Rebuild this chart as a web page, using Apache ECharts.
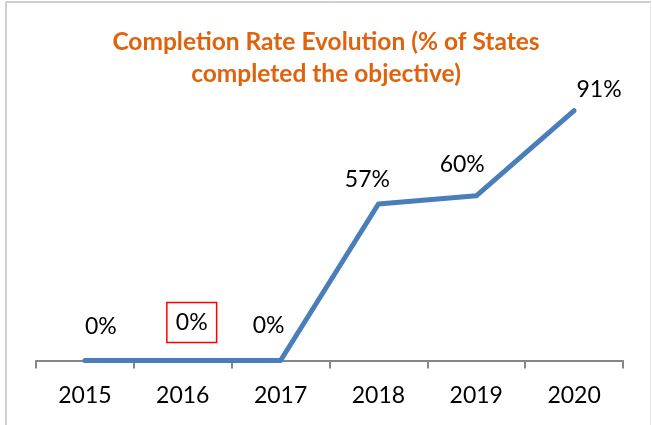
<!DOCTYPE html>
<html>
<head>
<meta charset="utf-8">
<script src="https://cdn.jsdelivr.net/npm/echarts@6/dist/echarts.min.js"></script>
<style>
  html, body { margin: 0; padding: 0; background: #fff; }
  #myChart { width: 652px; height: 425px; }
</style>
</head>
<body>
<div id="myChart"></div>
<script>
// data
const years = ['2015', '2016', '2017', '2018', '2019', '2020'];
const rates = [0, 0, 0, 57, 60, 91];

// label nudges (label centre relative to point), like the hand-placed Excel labels
const labelOffsets = [[16, -34], [9, -38], [-12, -35], [-11, -24], [-14, -31], [25, -21]];

const myChart = echarts.init(document.getElementById('myChart'));

const seriesData = rates.map(function (v, i) {
  const item = { value: v, label: { show: true, offset: labelOffsets[i] } };
  if (i === 1) {
    item.label.borderColor = '#ff0000';
    item.label.borderWidth = 1.5;
    item.label.padding = [9, 9, 8, 9];
  }
  return item;
});

const option = {
  animation: false,
  backgroundColor: '#fff',
  title: {
    text: 'Completion Rate Evolution (% of States\ncompleted the objective)',
    left: 'center',
    top: 21,
    padding: [5, 0, 5, 6],
    textStyle: {
      color: '#E0620D',
      fontFamily: 'Lato',
      fontWeight: 'bold',
      fontSize: 24.5,
      lineHeight: 32
    }
  },
  graphic: [
    { type: 'line', shape: { x1: 6, y1: 2, x2: 6, y2: 425 }, style: { stroke: '#a0a0a0', lineWidth: 1 } },
    { type: 'line', shape: { x1: 6, y1: 2, x2: 651, y2: 2 }, style: { stroke: '#a0a0a0', lineWidth: 1 } },
    { type: 'line', shape: { x1: 650.5, y1: 2, x2: 650.5, y2: 425 }, style: { stroke: '#e6e6e6', lineWidth: 1 } }
  ],
  grid: { left: 36, right: 29, top: 86, bottom: 64.5 },
  xAxis: {
    type: 'category',
    data: years,
    boundaryGap: true,
    axisLine: { lineStyle: { color: '#868686', width: 2 } },
    axisTick: { show: true, length: 8, lineStyle: { color: '#868686', width: 2 } },
    axisLabel: { color: '#000', fontFamily: 'Lato', fontSize: 23, margin: 24 }
  },
  yAxis: {
    type: 'value',
    min: 0,
    max: 100,
    show: false,
    splitLine: { show: false }
  },
  series: [{
    type: 'line',
    data: seriesData,
    symbol: 'circle',
    symbolSize: 4,
    showSymbol: true,
    itemStyle: { color: '#4A7EBB' },
    lineStyle: { color: '#4A7EBB', width: 5, cap: 'round', join: 'round' },
    label: {
      show: true,
      position: 'inside',
      color: '#000',
      fontFamily: 'Lato',
      fontSize: 23,
      formatter: '{c}%'
    }
  }]
};

myChart.setOption(option);
</script>
</body>
</html>
